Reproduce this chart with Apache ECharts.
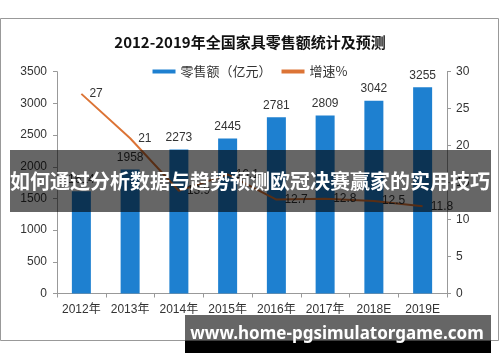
<!DOCTYPE html>
<html><head><meta charset="utf-8">
<script src="https://cdn.jsdelivr.net/npm/echarts@6/dist/echarts.min.js"></script>
<style>html,body{margin:0;padding:0;background:#fff}#c{width:500px;height:362px}</style>
</head><body><div id="c"></div>
<script>
const categories = ['2012年','2013年','2014年','2015年','2016年','2017年','2018E','2019E'];
const retailSales = [1614, 1958, 2273, 2445, 2781, 2809, 3042, 3255];
const growthRate = [27, 21, 13.9, 16.1, 12.7, 12.8, 12.5, 11.8];
const leftTicks = {min: 0, max: 3500, interval: 500};
const rightTicks = {min: 0, max: 30, interval: 5};
const titleText = '2012-2019年全国家具零售额统计及预测';
const bannerText = '如何通过分析数据与趋势预测欧冠决赛赢家的实用技巧';
const siteText = 'www.home-pgsimulatorgame.com';

const chart = echarts.init(document.getElementById('c'));
const axisCol = '#999';
const lblCol = '#333';
const font = '"Liberation Sans", Arial, "Noto Sans CJK SC", sans-serif';
chart.setOption({
  backgroundColor: '#fff',
  animation: false,
  title: {
    text: titleText, left: 'center', top: 30,
    textStyle: {fontSize: 15, fontWeight: 'bold', color: '#111', fontFamily: '"Noto Sans CJK SC", sans-serif'}
  },
  legend: {
    top: 60, left: 'center', itemWidth: 23, itemHeight: 4, itemGap: 10,
    textStyle: {fontSize: 13, color: lblCol, fontFamily: '"Noto Sans CJK SC", sans-serif'},
    data: [{name: '零售额（亿元）', icon: 'rect'}, {name: '增速%', icon: 'rect'}]
  },
  grid: {left: 57, right: 53, top: 71.7, bottom: 68.5},
  xAxis: {
    type: 'category', data: categories,
    axisLine: {lineStyle: {color: axisCol}},
    axisTick: {show: true, length: 4, lineStyle: {color: axisCol}},
    axisLabel: {color: lblCol, fontSize: 12, margin: 10, interval: 0, fontFamily: font}
  },
  yAxis: [
    {type: 'value', min: leftTicks.min, max: leftTicks.max, interval: leftTicks.interval,
     axisLine: {show: true, lineStyle: {color: axisCol}},
     axisTick: {show: true, length: 4, lineStyle: {color: axisCol}},
     splitLine: {show: false},
     axisLabel: {color: lblCol, fontSize: 12, margin: 10, fontFamily: font, formatter: v => String(v)}},
    {type: 'value', min: rightTicks.min, max: rightTicks.max, interval: rightTicks.interval,
     axisLine: {show: true, lineStyle: {color: axisCol}},
     axisTick: {show: true, length: 4, lineStyle: {color: axisCol}},
     splitLine: {show: false},
     axisLabel: {color: lblCol, fontSize: 12, margin: 9, fontFamily: font, formatter: v => String(v)}}
  ],
  series: [
    {name: '零售额（亿元）', type: 'bar', data: retailSales, barWidth: 19,
     itemStyle: {color: '#1E80D0'},
     label: {show: true, position: 'top', distance: 6, color: lblCol, fontSize: 12, fontFamily: font}},
    {name: '增速%', type: 'line', yAxisIndex: 1, data: growthRate,
     symbol: 'circle', symbolSize: 0.1, showSymbol: true, smooth: false,
     itemStyle: {color: '#DC7436'},
     lineStyle: {color: '#DC7436', width: 2},
     label: {show: true, position: 'right', distance: 8, color: lblCol, fontSize: 12, fontFamily: font}}
  ],
  graphic: [
    {type: 'rect', z: -10, shape: {x: 0.5, y: 18.5, width: 498, height: 322}, style: {fill: 'none', stroke: '#999', lineWidth: 1}},
    {type: 'rect', z: 100, shape: {x: 10, y: 150, width: 481, height: 62}, style: {fill: 'rgba(0,0,0,0.6)'}},
    {type: 'text', z: 101, x: 250, y: 181, style: {text: bannerText, fill: '#fff', fontSize: 20, fontWeight: 'bold', fontFamily: '"Noto Sans CJK SC", sans-serif', textAlign: 'center', textVerticalAlign: 'middle'}},
    {type: 'rect', z: 100, shape: {x: 185, y: 315, width: 306, height: 26}, style: {fill: 'rgba(0,0,0,0.6)'}},
    {type: 'rect', z: 100, shape: {x: 185, y: 341, width: 306, height: 12}, style: {fill: '#000'}},
    {type: 'text', z: 101, x: 337, y: 334, style: {text: siteText, fill: '#fff', fontSize: 17, fontWeight: 'bold', fontFamily: '"Noto Sans", "Open Sans", sans-serif', textAlign: 'center', textVerticalAlign: 'middle'}}
  ]
});
</script></body></html>
